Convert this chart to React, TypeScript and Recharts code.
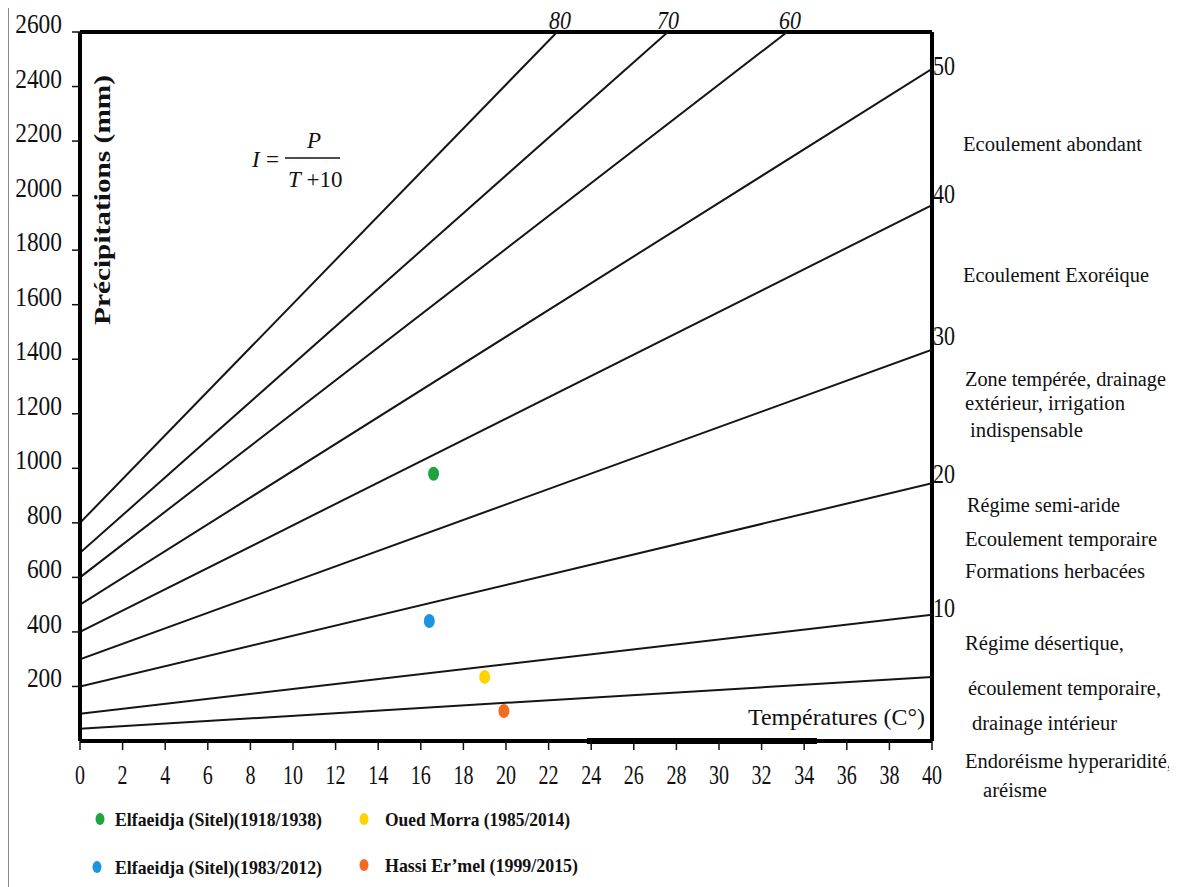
import { ComposedChart, Line, Scatter, XAxis, YAxis, ReferenceLine } from 'recharts';

// axis ticks
const X_TICKS = [0, 2, 4, 6, 8, 10, 12, 14, 16, 18, 20, 22, 24, 26, 28, 30, 32, 34, 36, 38, 40];
const Y_TICKS = [200, 400, 600, 800, 1000, 1200, 1400, 1600, 1800, 2000, 2200, 2400, 2600];

// De Martonne index lines, end points
const INDEX_VALUES = [5, 10, 20, 30, 40, 50, 60, 70, 80];
const P_AT_T0 = [45, 100, 200, 300, 400, 500, 600, 690, 800];
const END_T = [40, 40, 40, 40, 40, 40, 33.2, 27.6, 22.4];
const END_P = [235, 463, 945, 1435, 1965, 2465, 2600, 2600, 2600];

// stations
const STATION_NAMES = [
  'Elfaeidja (Sitel)(1918/1938)',
  'Elfaeidja (Sitel)(1983/2012)',
  'Oued Morra (1985/2014)',
  'Hassi Er’mel  (1999/2015)',
];
const STATION_T = [16.6, 16.4, 19.0, 19.9];
const STATION_P = [980, 440, 235, 110];
const STATION_COLORS = ['#1fa33f', '#1c95e0', '#ffd200', '#f36b21'];

// labels on the right edge / top edge
const RIGHT_LABELS = ['50', '40', '30', '20', '10'];
const TOP_LABELS = ['80', '70', '60'];

const ZONE_TEXTS = [
  'Ecoulement abondant',
  'Ecoulement Exoréique',
  'Zone tempérée, drainage',
  'extérieur, irrigation',
  'indispensable',
  'Régime semi-aride',
  'Ecoulement temporaire',
  'Formations herbacées',
  'Régime désertique,',
  'écoulement temporaire,',
  'drainage intérieur',
  'Endoréisme hyperaridité,',
  'aréisme',
];

const SERIF = '"Liberation Serif", "Times New Roman", serif';
const W = 1164;
const H = 880;

const lineData = INDEX_VALUES.map((_, i) => [
  { t: 0, p: P_AT_T0[i] },
  { t: END_T[i], p: END_P[i] },
]);

const stationData = STATION_NAMES.map((name, i) => ({
  name,
  t: STATION_T[i],
  p: STATION_P[i],
  color: STATION_COLORS[i],
}));

const XTick = (props: any) => {
  const { x, y, payload } = props;
  const s = String(payload.value);
  return (
    <text
      x={x}
      y={y + 32}
      textAnchor="middle"
      fontSize={27}
      fontFamily={SERIF}
      fill="#111"
      textLength={s.length * 10}
      lengthAdjust="spacingAndGlyphs"
    >
      {s}
    </text>
  );
};

const YTick = (props: any) => {
  const { x, y, payload } = props;
  const s = String(payload.value);
  return (
    <text
      x={x - 8}
      y={y + 1}
      textAnchor="end"
      fontSize={28}
      fontFamily={SERIF}
      fill="#111"
      textLength={s.length * 11.7}
      lengthAdjust="spacingAndGlyphs"
    >
      {s}
    </text>
  );
};

const Dot = (props: any) => {
  const { cx, cy, payload } = props;
  return <ellipse cx={cx} cy={cy} rx={5.5} ry={7} fill={payload.color} />;
};

// page-coordinate placement of the free text
const RIGHT_Y = [75, 203, 345, 483, 617];
const TOP_X = [560, 668, 790];
const ZONE_X = [963, 963, 965, 965, 970, 967, 965, 965, 965, 968, 972, 965, 983];
const ZONE_END = [1142, 1149, 1166, 1125, 1083, 1120, 1157, 1145, 1124, 1161, 1117, 1172, 1047];
const ZONE_Y = [151, 282, 386, 410, 437, 512, 546, 578, 650, 695, 730, 768, 797];
const LEGEND_POS = [
  { x: 100, y: 819, tx: 115, tw: 207 },
  { x: 97, y: 867, tx: 115, tw: 207 },
  { x: 364, y: 819, tx: 385, tw: 185 },
  { x: 364, y: 865, tx: 385, tw: 193 },
];

function Annotations() {
  return (
    <svg
      width={W}
      height={H}
      style={{ position: 'absolute', left: 0, top: 0, pointerEvents: 'none' }}
    >
      <g transform="translate(-9,-8)" fontFamily={SERIF} fill="#111">
        {/* y title */}
        <text
          transform="translate(110,200) rotate(-90)"
          textAnchor="middle"
          fontSize={24}
          fontWeight="bold"
          textLength={250}
          lengthAdjust="spacingAndGlyphs"
        >
          Précipitations (mm)
        </text>

        {/* formula */}
        <text x={252} y={167} fontSize={23} fontStyle="italic">I</text>
        <text x={266} y={167} fontSize={23}>=</text>
        <text x={314} y={148} fontSize={23} fontStyle="italic" textAnchor="middle">P</text>
        <line x1={285} x2={340} y1={158} y2={158} stroke="#111" strokeWidth={1.3} />
        <text x={288} y={187} fontSize={23}>
          <tspan fontStyle="italic">T</tspan>
          <tspan> +10</tspan>
        </text>

        {/* x title */}
        <text x={748} y={725} fontSize={24} textLength={177} lengthAdjust="spacingAndGlyphs">
          Températures (C°)
        </text>

        {/* index labels */}
        {RIGHT_LABELS.map((s, i) => (
          <text
            key={s}
            x={933}
            y={RIGHT_Y[i]}
            fontSize={28}
            textLength={22}
            lengthAdjust="spacingAndGlyphs"
          >
            {s}
          </text>
        ))}
        {TOP_LABELS.map((s, i) => (
          <text
            key={s}
            x={TOP_X[i]}
            y={29}
            fontSize={26}
            fontStyle="italic"
            textAnchor="middle"
            textLength={22}
            lengthAdjust="spacingAndGlyphs"
          >
            {s}
          </text>
        ))}

        {/* zones */}
        {ZONE_TEXTS.map((s, i) => (
          <text
            key={s}
            x={ZONE_X[i]}
            y={ZONE_Y[i]}
            fontSize={20}
            textLength={ZONE_END[i] - ZONE_X[i]}
            lengthAdjust="spacingAndGlyphs"
          >
            {s}
          </text>
        ))}

        {/* legend */}
        {stationData.map((d, i) => (
          <g key={d.name}>
            <ellipse cx={LEGEND_POS[i].x} cy={LEGEND_POS[i].y} rx={4.5} ry={6} fill={d.color} />
            <text
              x={LEGEND_POS[i].tx}
              y={LEGEND_POS[i].y + 7}
              fontSize={19}
              fontWeight="bold"
              textLength={LEGEND_POS[i].tw}
              lengthAdjust="spacingAndGlyphs"
            >
              {d.name}
            </text>
          </g>
        ))}
      </g>
    </svg>
  );
}

export default function App() {
  return (
    <div
      style={{
        position: 'relative',
        width: W,
        height: H,
        marginTop: -1,
        border: '1px solid #8a8a8a',
        background: '#fff',
        fontFamily: SERIF,
      }}
    >
      <ComposedChart
        width={W}
        height={H}
        margin={{ top: 24, right: 241, bottom: 107, left: 11 }}
      >
        <XAxis
          type="number"
          dataKey="t"
          domain={[0, 40]}
          ticks={X_TICKS}
          interval={0}
          height={40}
          tick={<XTick />}
          tickSize={9}
          tickLine={{ stroke: '#111', strokeWidth: 1.5 }}
          axisLine={{ stroke: '#000', strokeWidth: 4 }}
          allowDataOverflow
        />
        <YAxis
          type="number"
          domain={[0, 2600]}
          ticks={Y_TICKS}
          interval={0}
          width={60}
          tick={<YTick />}
          tickSize={8}
          tickLine={{ stroke: '#111', strokeWidth: 1.5 }}
          axisLine={{ stroke: '#000', strokeWidth: 4 }}
          allowDataOverflow
        />
        <ReferenceLine y={2600} stroke="#000" strokeWidth={4} />
        <ReferenceLine x={40} stroke="#000" strokeWidth={4} />
        <ReferenceLine
          segment={[
            { x: 23.8, y: 0 },
            { x: 34.6, y: 0 },
          ]}
          stroke="#000"
          strokeWidth={6}
        />
        {lineData.map((data, i) => (
          <Line
            key={INDEX_VALUES[i]}
            data={data}
            dataKey="p"
            type="linear"
            stroke="#151515"
            strokeWidth={2}
            dot={false}
            activeDot={false}
            isAnimationActive={false}
          />
        ))}
        <Scatter
          data={stationData}
          dataKey="p"
          shape={<Dot />}
          isAnimationActive={false}
        />
      </ComposedChart>
      <Annotations />
    </div>
  );
}
